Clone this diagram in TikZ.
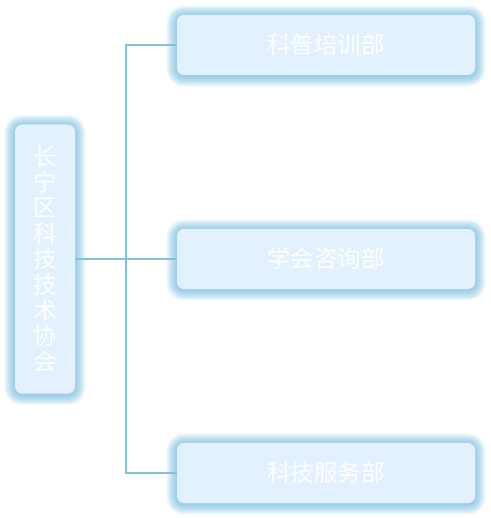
\documentclass[tikz,border=0pt]{standalone}
\usepackage{fontspec}
\setmainfont{Noto Sans CJK SC}
\usetikzlibrary{backgrounds}
\definecolor{boxfill}{HTML}{E3F0FD}
\definecolor{glowc}{HTML}{5AAFD8}
\definecolor{linec}{HTML}{7EC2E0}
\tikzset{
  box/.style={fill=boxfill, rounded corners=7pt, text=white, inner sep=0pt,
    font=\fontsize{23.5}{25.6}\selectfont},
  conn/.style={draw=linec, line width=1.3pt}
}
\begin{document}
\begin{tikzpicture}[x=1pt,y=-1pt]
\useasboundingbox (0,0) rectangle (490,518);
\node[box, minimum width=60pt, minimum height=269pt, align=center] (root) at (45,259)
  {长\\宁\\区\\科\\技\\技\\术\\协\\会};
\node[box, minimum width=298pt, minimum height=60pt] (a) at (326,45) {科普培训部};
\node[box, minimum width=298pt, minimum height=60pt] (b) at (326,259) {学会咨询部};
\node[box, minimum width=298pt, minimum height=60pt] (c) at (326,473) {科技服务部};
\coordinate (j) at (126,259);
\begin{pgfonlayer}{background}
\foreach \n in {root,a,b,c}{
  \foreach \s in {1,...,16}{
    \pgfmathsetmacro\r{\s*0.65}
    \pgfmathsetmacro\rc{7+\r}
    \fill[glowc, opacity=0.055, rounded corners=\rc pt]
      ([shift={(-\r,-\r+1)}]\n.north west) rectangle ([shift={(\r,\r+1)}]\n.south east);
  }
}
\end{pgfonlayer}
\draw[conn] (root.east) -- (b.west);
\draw[conn] (a.west) -- (a.west -| j) -- (c.west -| j) -- (c.west);
\end{tikzpicture}
\end{document}
